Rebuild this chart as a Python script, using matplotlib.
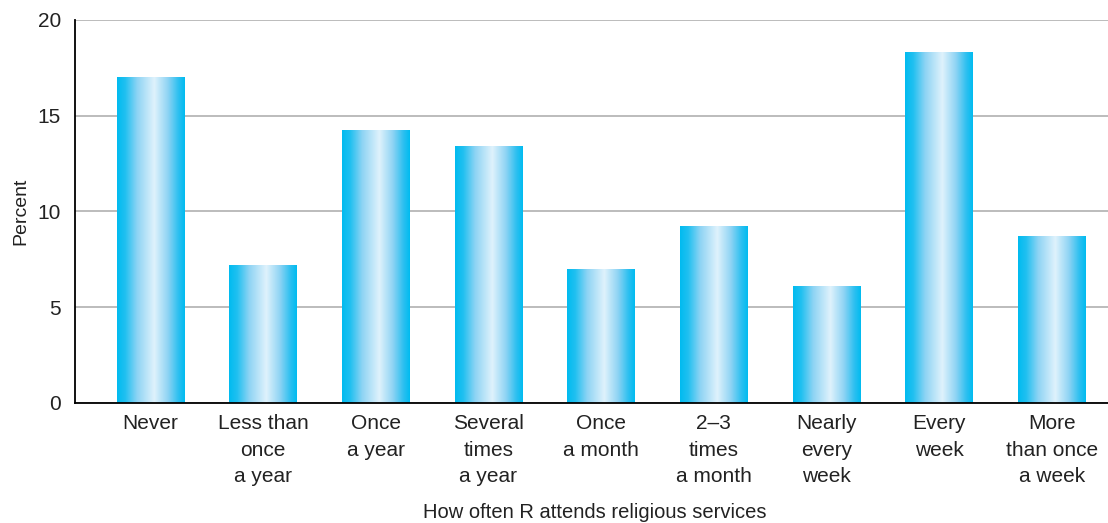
import numpy as np
import matplotlib.pyplot as plt
from matplotlib.colors import LinearSegmentedColormap

categories = ["Never", "Less than\nonce\na year", "Once\na year", "Several\ntimes\na year",
              "Once\na month", "2\u20133\ntimes\na month", "Nearly\nevery\nweek",
              "Every\nweek", "More\nthan once\na week"]
percent = [17.0, 7.2, 14.25, 13.4, 6.95, 9.2, 6.1, 18.3, 8.7]

plt.rcParams['font.family'] = ['Liberation Sans', 'DejaVu Sans']

fig = plt.figure(figsize=(11.08, 5.23), dpi=100)
ax = fig.add_axes([75/1108, 1 - 403/523, 1 - 75/1108, (403 - 20)/523])

# Horizontal gradient for the bars
cmap = LinearSegmentedColormap.from_list("bar", [
    (0.0, "#00bbf0"), (0.12, "#20c0f0"), (0.3, "#8fd4f4"),
    (0.55, "#dff2fc"), (0.75, "#8fd4f4"), (0.9, "#30c0f0"), (1.0, "#00bbf0")])
grad = np.linspace(0, 1, 256).reshape(1, -1)

width = 0.6
for i, v in enumerate(percent):
    ax.imshow(grad, cmap=cmap, extent=[i - width/2, i + width/2, 0, v],
              aspect='auto', zorder=2, interpolation='bilinear')

ax.set_xlim(-0.67, 8.5)
ax.set_ylim(0, 20)
ax.set_yticks([0, 5, 10, 15, 20])
ax.set_xticks(range(len(categories)))
ax.set_xticklabels(categories, fontsize=15, linespacing=1.5, color='#222222')
ax.tick_params(axis='y', labelsize=15, length=0, pad=10, labelcolor='#222222')
ax.tick_params(axis='x', length=0, pad=8)
ax.grid(axis='y', color='#b0b0b0', linewidth=1.2, zorder=0)
ax.set_axisbelow(True)
for s in ['top', 'right']:
    ax.spines[s].set_visible(False)
ax.spines['left'].set_linewidth(1.3)
ax.spines['bottom'].set_linewidth(1.3)

ax.set_ylabel("Percent", fontsize=14, labelpad=6, color='#222222')
fig.text(0.537, 1 - 513/523, "How often R attends religious services", fontsize=14.5,
         ha='center', va='center', color='#222222')

fig.savefig("out.png", dpi=100)
